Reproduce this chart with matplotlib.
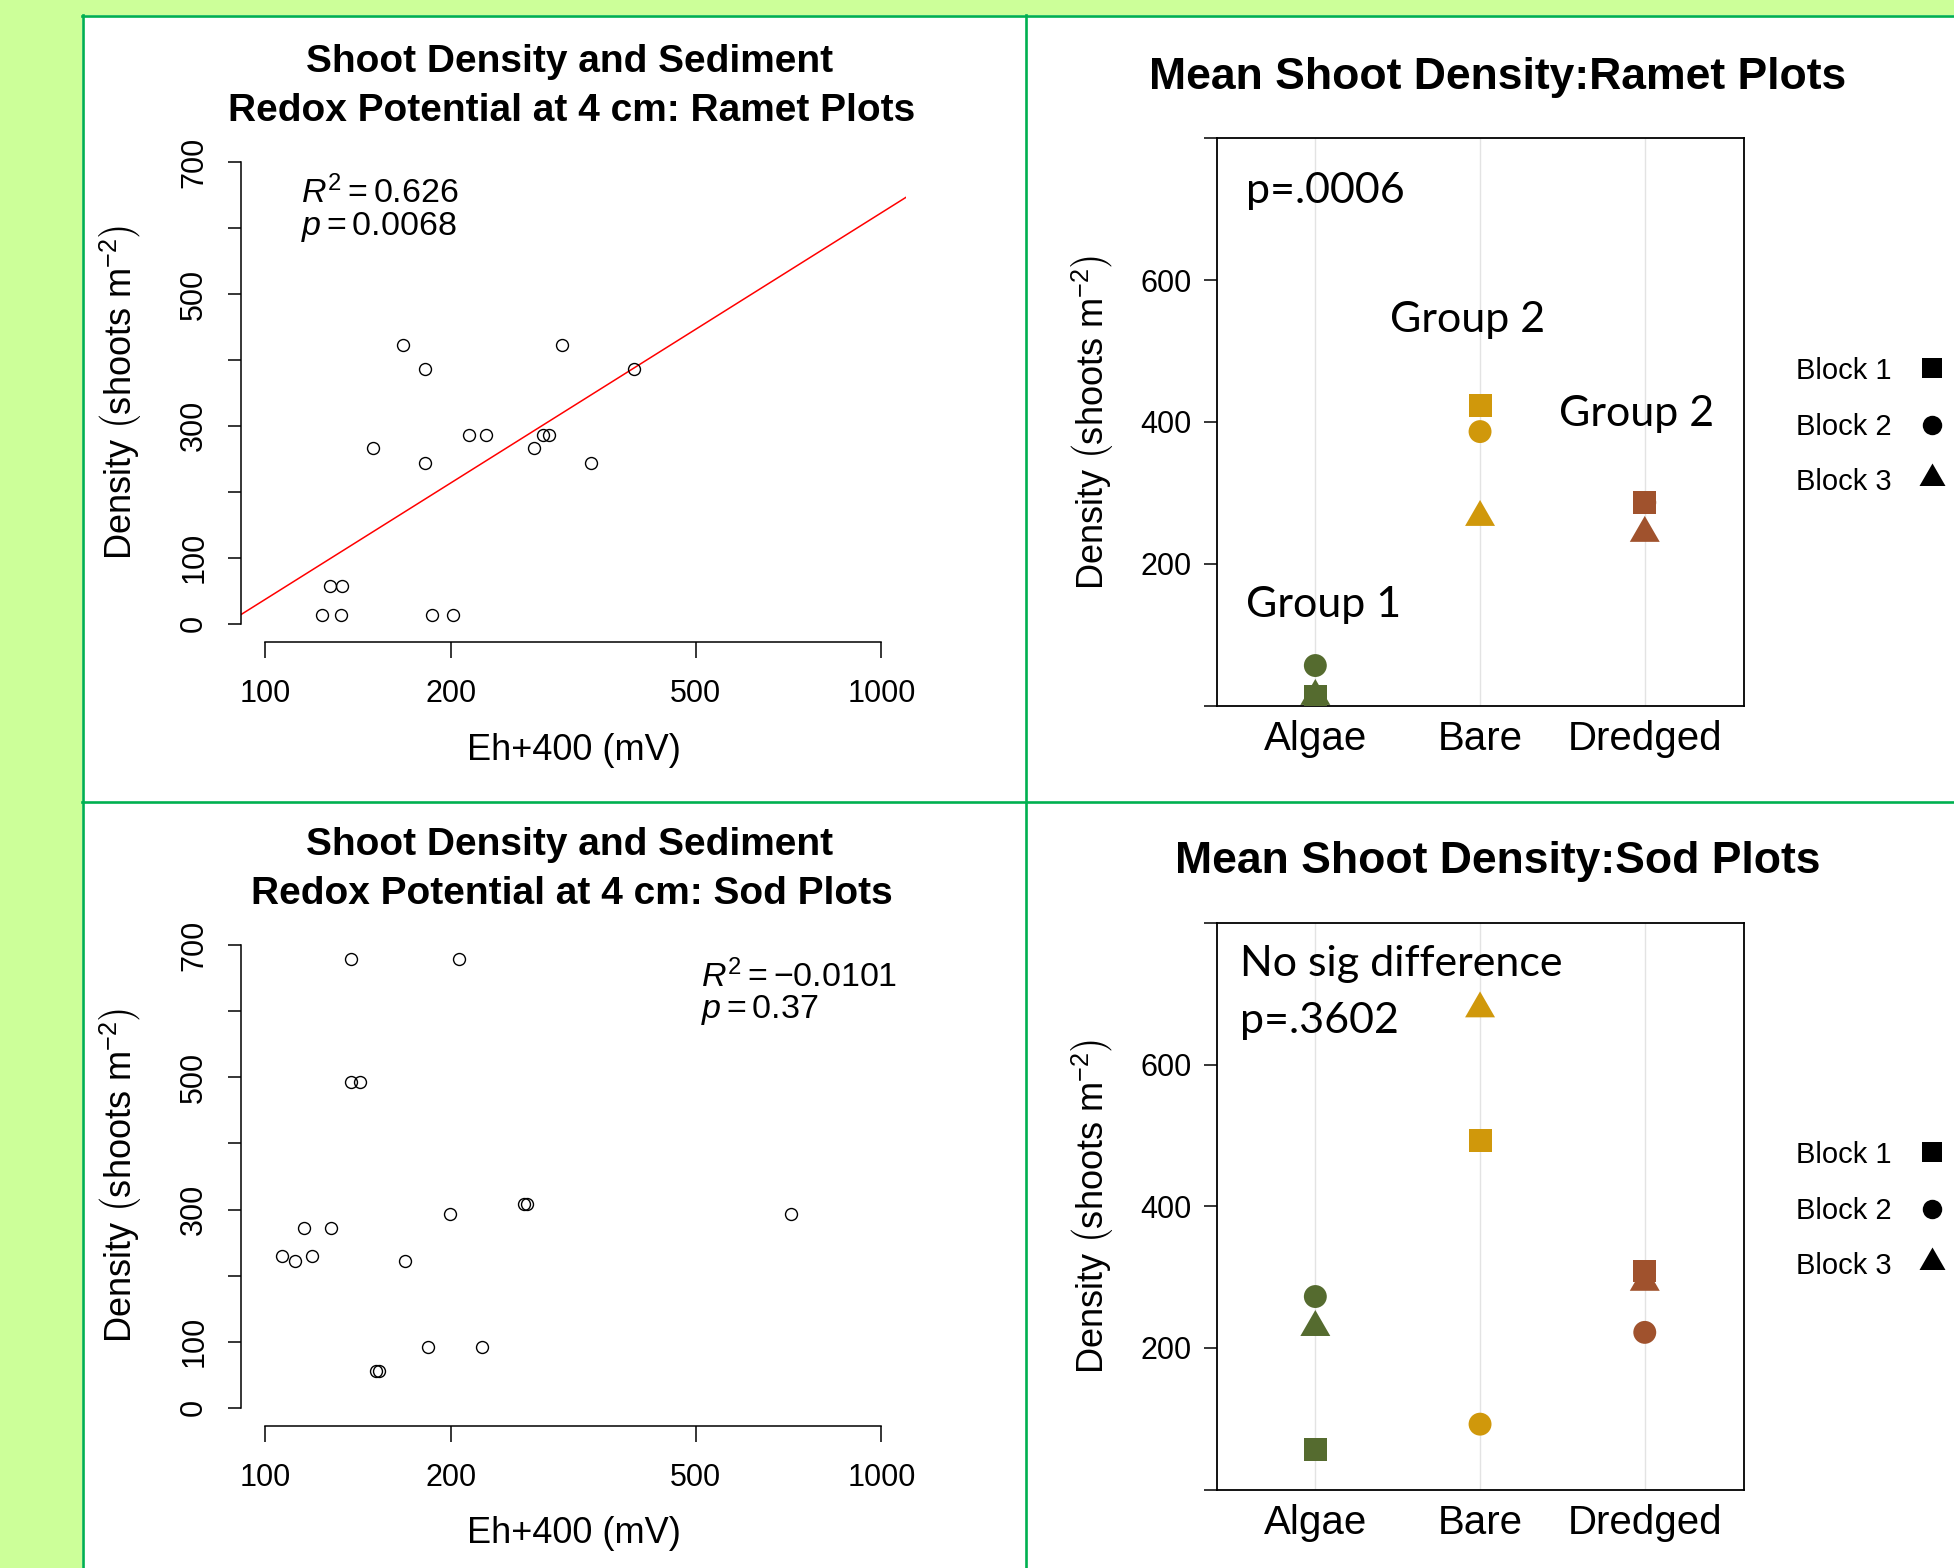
import matplotlib
matplotlib.use('Agg')
import matplotlib.pyplot as plt
from matplotlib.patches import Rectangle
from matplotlib.lines import Line2D
from matplotlib.path import Path
from matplotlib.ticker import NullLocator
import numpy as np

# ---------------- data ----------------
ramet_eh = [123.7, 132.7, 127.2, 133.0, 186.8, 201.7, 149.6, 167.6, 181.8,
            181.8, 214.5, 228.5, 273.3, 282.7, 288.6, 302.6, 337.3, 396.1]
ramet_density = [13.2, 13.2, 56.5, 56.5, 13.2, 13.2, 265.6, 422.8, 386.4,
                 243.1, 286.5, 286.5, 265.6, 286.5, 286.5, 422.8, 243.1, 386.4]
ramet_fit_intercept = -1136.3   # density = a + b*log10(Eh+400)
ramet_fit_slope = 586.5

sod_eh = [137.9, 206.4, 137.9, 142.3, 106.3, 111.7, 115.6, 119.3, 127.7,
          168.4, 199.5, 263.0, 266.0, 712.1, 183.4, 224.4, 151.4, 153.1]
sod_density = [679.0, 679.0, 493.5, 493.5, 229.1, 222.0, 272.6, 229.1, 272.6,
               222.0, 292.9, 308.7, 308.7, 292.9, 92.4, 92.4, 56.3, 56.3]

categories = ['Algae', 'Bare', 'Dredged']
block_labels = ['Block 1', 'Block 2', 'Block 3']
ramet_block1 = [13.2, 422.8, 286.5]
ramet_block2 = [56.5, 386.4, 286.5]
ramet_block3 = [13.2, 265.6, 243.1]
sod_block1 = [56.3, 493.5, 308.7]
sod_block2 = [272.6, 92.4, 222.0]
sod_block3 = [229.1, 679.0, 292.9]

x_ticks = [100, 200, 500, 1000]
y_ticks_scatter = [0, 100, 200, 300, 400, 500, 600, 700]
y_labels_scatter = ['0', '100', '', '300', '', '500', '', '700']
y_ticks_mean = [0, 200, 400, 600, 800]
y_labels_mean = ['', '200', '400', '600', '']

cat_colors = ['#556B2F', '#D0980B', '#A0522D']

# ---------------- style ----------------
W, H = 1954, 1568
DPI = 100
plt.rcParams['font.family'] = ['Liberation Sans', 'DejaVu Sans']
plt.rcParams['mathtext.fontset'] = 'custom'
plt.rcParams['mathtext.rm'] = 'Liberation Sans'
plt.rcParams['mathtext.it'] = 'Liberation Sans:italic'
plt.rcParams['mathtext.bf'] = 'Liberation Sans:bold'

BG = '#CCFF99'
BORDER = '#00B050'

fig = plt.figure(figsize=(W / DPI, H / DPI), dpi=DPI, facecolor=BG)


def fx(x):
    return x / W


def fy(y):
    return 1 - y / H


def add_ax(l, t, r, b):
    return fig.add_axes([l / W, 1 - b / H, (r - l) / W, (b - t) / H])


# white panels + green borders
fig.add_artist(Rectangle((fx(82), 0), 1 - fx(82), fy(15), transform=fig.transFigure,
                         facecolor='white', edgecolor='none', zorder=-3))
blw = 1.9
fig.add_artist(Line2D([fx(82.5), fx(82.5)], [fy(14.5), 0], transform=fig.transFigure,
                      color=BORDER, lw=blw, zorder=-2))
fig.add_artist(Line2D([fx(81.5), 1], [fy(15.5), fy(15.5)], transform=fig.transFigure,
                      color=BORDER, lw=blw, zorder=-2))
fig.add_artist(Line2D([fx(1025.5), fx(1025.5)], [fy(15), 0], transform=fig.transFigure,
                      color=BORDER, lw=blw, zorder=-2))
fig.add_artist(Line2D([fx(81.5), 1], [fy(802), fy(802)], transform=fig.transFigure,
                      color=BORDER, lw=blw, zorder=-2))

# triangle marker with centroid at the centre (like R pch 17)
tri_path = Path([(0, 2 / np.sqrt(3)), (-1, -1 / np.sqrt(3)), (1, -1 / np.sqrt(3)),
                 (0, 2 / np.sqrt(3))],
                [Path.MOVETO, Path.LINETO, Path.LINETO, Path.CLOSEPOLY])

ylabel_txt = r'Density $\left(\mathrm{shoots\ m}^{-2}_{\ }\right)$'


def scatter_panel(ax, eh, dens, fit=None):
    ax.set_xscale('log')
    ax.set_xlim(10 ** 1.96, 10 ** 3.04)
    ax.set_ylim(-28, 728)
    ax.set_facecolor('none')
    ax.plot(eh, dens, ls='none', marker='o', mfc='none', mec='black',
            ms=8.6, mew=1.0, zorder=3)
    if fit is not None:
        xs = np.array([10 ** 1.96, 10 ** 3.04])
        ax.plot(xs, fit[0] + fit[1] * np.log10(xs), color='red', lw=1.1, zorder=2)
    for s in ['top', 'right']:
        ax.spines[s].set_visible(False)
    for s in ['left', 'bottom']:
        ax.spines[s].set_linewidth(1.1)
    ax.spines['left'].set_bounds(0, 700)
    ax.spines['bottom'].set_bounds(100, 1000)
    ax.set_xticks(x_ticks)
    ax.set_xticklabels([str(v) for v in x_ticks])
    ax.xaxis.set_minor_locator(NullLocator())
    ax.set_yticks(y_ticks_scatter)
    ax.set_yticklabels(y_labels_scatter, rotation=90, va='center')
    ax.tick_params(axis='x', length=11.5, width=1.1, pad=15, labelsize=22)
    ax.tick_params(axis='y', length=9.6, width=1.1, pad=13, labelsize=22)


def mean_panel(ax, b1, b2, b3):
    xs = np.arange(1, len(categories) + 1)
    ax.set_xlim(0.4, 3.6)
    ax.set_ylim(0, 800)
    ax.set_facecolor('none')
    ax.set_axisbelow(True)
    ax.grid(axis='x', color='#e3e3e3', lw=1.0)
    ax.scatter(xs, b1, marker='s', s=16.5 ** 2, c=cat_colors, linewidths=0, zorder=3)
    ax.scatter(xs, b2, marker='o', s=16.5 ** 2, c=cat_colors, linewidths=0, zorder=3)
    ax.scatter(xs, b3, marker=tri_path, s=24.9 ** 2, c=cat_colors, linewidths=0, zorder=3)
    ax.set_xticks(xs)
    ax.set_xticklabels(categories)
    ax.set_yticks(y_ticks_mean)
    ax.set_yticklabels(y_labels_mean)
    ax.tick_params(axis='x', length=0, pad=10.5, labelsize=29)
    ax.tick_params(axis='y', length=9.1, width=1.1, pad=8.9, labelsize=22)
    for s in ax.spines.values():
        s.set_linewidth(1.3)


# ---------------- axes ----------------
ax_tl = add_ax(240.6, 143.7, 906, 642)
ax_bl = add_ax(240.6, 926.8, 906, 1426.2)
ax_tr = add_ax(1216.5, 138.3, 1743.6, 705.6)
ax_br = add_ax(1216.5, 923, 1743.6, 1489.6)

scatter_panel(ax_tl, ramet_eh, ramet_density, (ramet_fit_intercept, ramet_fit_slope))
scatter_panel(ax_bl, sod_eh, sod_density)
mean_panel(ax_tr, ramet_block1, ramet_block2, ramet_block3)
mean_panel(ax_br, sod_block1, sod_block2, sod_block3)

# ---------------- text: left panels ----------------
for dy, sub in [(0, 'Ramet Plots'), (783, 'Sod Plots')]:
    fig.text(fx(570), fy(72.4 + dy), 'Shoot Density and Sediment', ha='center',
             va='baseline', fontsize=28, fontweight='bold')
    fig.text(fx(572), fy(121.4 + dy), 'Redox Potential at 4 cm: ' + sub, ha='center',
             va='baseline', fontsize=28, fontweight='bold')
    fig.text(fx(573.5), fy(760 + dy), 'Eh+400 (mV)', ha='center', va='baseline',
             fontsize=26)
    fig.text(fx(121), fy(392.5 + dy), ylabel_txt, rotation=90, ha='center',
             va='center', fontsize=26)

fig.text(fx(301), fy(203), r'$R^2 = \mathrm{0.626}$', fontsize=24.5, va='baseline')
fig.text(fx(301), fy(234.7), r'$p = \mathrm{0.0068}$', fontsize=24.5, va='baseline')
fig.text(fx(701), fy(987.5), r'$R^2 = \mathrm{-0.0101}$', fontsize=24.5, va='baseline')
fig.text(fx(701), fy(1018.2), r'$p = \mathrm{0.37}$', fontsize=24.5, va='baseline')

# ---------------- text: right panels ----------------
for dy, sub in [(0, 'Ramet Plots'), (784, 'Sod Plots')]:
    fig.text(fx(1498), fy(89 + dy), 'Mean Shoot Density:' + sub, ha='center',
             va='baseline', fontsize=32, fontweight='bold')
    fig.text(fx(1093), fy(422 + dy), ylabel_txt, rotation=90, ha='center',
             va='center', fontsize=26)
    # legend
    mk = [('s', 14.4), ('o', 14.0), (tri_path, 21.6)]
    for i, lab in enumerate(block_labels):
        fig.text(fx(1796), fy(379.3 + 55.3 * i + dy), lab, fontsize=21, va='baseline')
    for (m, ms), yy in zip(mk, [368, 424.6, 477.7]):
        fig.add_artist(Line2D([fx(1931.7)], [fy(yy + dy)], transform=fig.transFigure,
                              marker=m, ms=ms, color='black', mew=0, ls='none'))

ann = dict(fontsize=31, family=['Lato', 'DejaVu Sans'], va='baseline')
fig.text(fx(1246), fy(202.5), 'p=.0006', **ann)
fig.text(fx(1390.5), fy(331.6), 'Group 2', **ann)
fig.text(fx(1559), fy(426), 'Group 2', **ann)
fig.text(fx(1246), fy(617.3), 'Group 1', **ann)
fig.text(fx(1240.4), fy(976), 'No sig difference', **ann)
fig.text(fx(1240.4), fy(1033), 'p=.3602', **ann)

fig.savefig('out.png', dpi=DPI, facecolor=BG)
